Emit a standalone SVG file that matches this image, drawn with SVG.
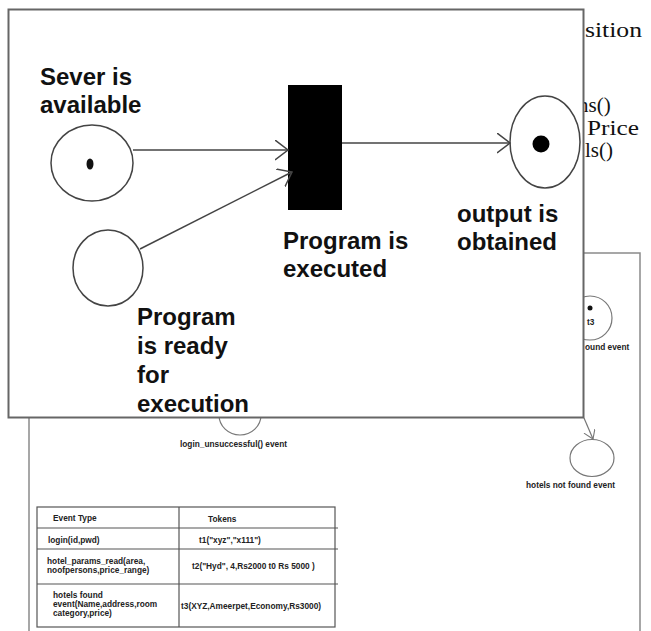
<svg xmlns="http://www.w3.org/2000/svg" width="651" height="631" viewBox="0 0 651 631">
<style>
.page{fill:none;stroke:#8a8a8a;stroke-width:1.5}
.tbl{fill:none;stroke:#555;stroke-width:1.2}
.sm{font-family:"Liberation Sans",Arial,sans-serif;font-weight:bold;font-size:8.3px;fill:#222}
.serif{font-family:"Liberation Serif","Times New Roman",serif;font-size:21px;fill:#111}
.big{font-family:"Liberation Sans",Arial,sans-serif;font-weight:bold;font-size:24px;fill:#111}
.place{fill:none;stroke:#444;stroke-width:1.5}
.arc{fill:none;stroke:#444;stroke-width:1.5}
.pl{fill:none;stroke:#777;stroke-width:1.2}
</style>
<defs>
<marker id="vh" markerUnits="userSpaceOnUse" markerWidth="16" markerHeight="24" refX="13" refY="10" orient="auto">
<path d="M0,0 L13,10 L0,20" fill="none" stroke="#444" stroke-width="1.5"/>
</marker>
<marker id="vs" markerUnits="userSpaceOnUse" markerWidth="12" markerHeight="16" refX="9" refY="6" orient="auto">
<path d="M0,0 L9,6 L0,12" fill="none" stroke="#777" stroke-width="1.1"/>
</marker>
</defs>
<rect width="651" height="631" fill="#fff"/>

<g id="page">
<path class="page" d="M583,253 H640 V631"/>
<path class="page" d="M29,418 V631"/>
<text class="serif" x="585" y="37" font-size="23" textLength="57" lengthAdjust="spacingAndGlyphs">sition</text>
<text class="serif" x="578" y="112">ns()</text>
<text class="serif" x="587" y="135" textLength="52" lengthAdjust="spacingAndGlyphs">Price</text>
<text class="serif" x="585" y="157">ls()</text>
</g>

<g id="hotels-found">
<circle class="pl" cx="590" cy="318" r="22"/>
<circle cx="590" cy="308" r="2.5" fill="#111"/>
<text class="sm" x="587" y="325" font-size="7">t3</text>
<text class="sm" x="585" y="350">ound event</text>
</g>

<g id="login-unsuccessful">
<ellipse class="pl" cx="240" cy="415" rx="21" ry="20"/>
<text class="sm" x="180" y="447">login_unsuccessful() event</text>
</g>

<g id="hotels-not-found">
<ellipse class="pl" cx="592" cy="458" rx="22" ry="18.5"/>
<text class="sm" x="526" y="488">hotels not found event</text>
</g>

<g id="page-connectors">
<line class="pl" x1="584" y1="418" x2="593" y2="439" marker-end="url(#vs)"/>
</g>

<g id="table">
<rect class="tbl" x="37" y="507" width="298" height="120"/>
<line class="tbl" x1="179" y1="507" x2="179" y2="627"/>
<line class="tbl" x1="37" y1="528" x2="338" y2="528"/>
<line class="tbl" x1="37" y1="549" x2="338" y2="549"/>
<line class="tbl" x1="37" y1="584" x2="338" y2="584"/>
<text class="sm" x="53" y="521">Event Type</text>
<text class="sm" x="208" y="522">Tokens</text>
<text class="sm" x="48" y="543">login(id,pwd)</text>
<text class="sm" x="199" y="543">t1("xyz","x111")</text>
<text class="sm" x="47" y="564">hotel_params_read(area,</text>
<text class="sm" x="47" y="573">noofpersons,price_range)</text>
<text class="sm" x="192" y="569">t2("Hyd", 4,Rs2000 t0 Rs 5000 )</text>
<text class="sm" x="53" y="598">hotels found</text>
<text class="sm" x="53" y="607">event(Name,address,room</text>
<text class="sm" x="53" y="616">category,price)</text>
<text class="sm" x="181" y="609">t3(XYZ,Ameerpet,Economy,Rs3000)</text>
</g>

<g id="frame">
<rect x="8.5" y="9.5" width="575" height="408" fill="#fff" stroke="#666" stroke-width="2"/>
</g>

<g id="server-available">
<ellipse class="place" cx="92" cy="163" rx="41" ry="38"/>
<ellipse cx="90" cy="164" rx="3.5" ry="5.5" fill="#111"/>
<text class="big" x="40" y="85">Sever is</text>
<text class="big" x="40" y="113">available</text>
</g>

<g id="program-ready">
<ellipse class="place" cx="108" cy="268" rx="35" ry="38"/>
<text class="big" x="137" y="325">Program</text>
<text class="big" x="137" y="354">is ready</text>
<text class="big" x="137" y="383">for</text>
<text class="big" x="137" y="412">execution</text>
</g>

<g id="program-executed">
<rect x="288" y="85" width="54" height="125" fill="#000"/>
<text class="big" x="283" y="249">Program is</text>
<text class="big" x="283" y="277">executed</text>
</g>

<g id="output-obtained">
<ellipse class="place" cx="545" cy="142" rx="35" ry="46"/>
<circle cx="541" cy="144" r="8.5" fill="#000"/>
<text class="big" x="457" y="222">output is</text>
<text class="big" x="457" y="250">obtained</text>
</g>

<g id="connectors">
<line class="arc" x1="133" y1="150" x2="288" y2="150" marker-end="url(#vh)"/>
<line class="arc" x1="140" y1="249" x2="292" y2="172" marker-end="url(#vh)"/>
<line class="arc" x1="342" y1="143" x2="510" y2="143" marker-end="url(#vh)"/>
</g>
</svg>
